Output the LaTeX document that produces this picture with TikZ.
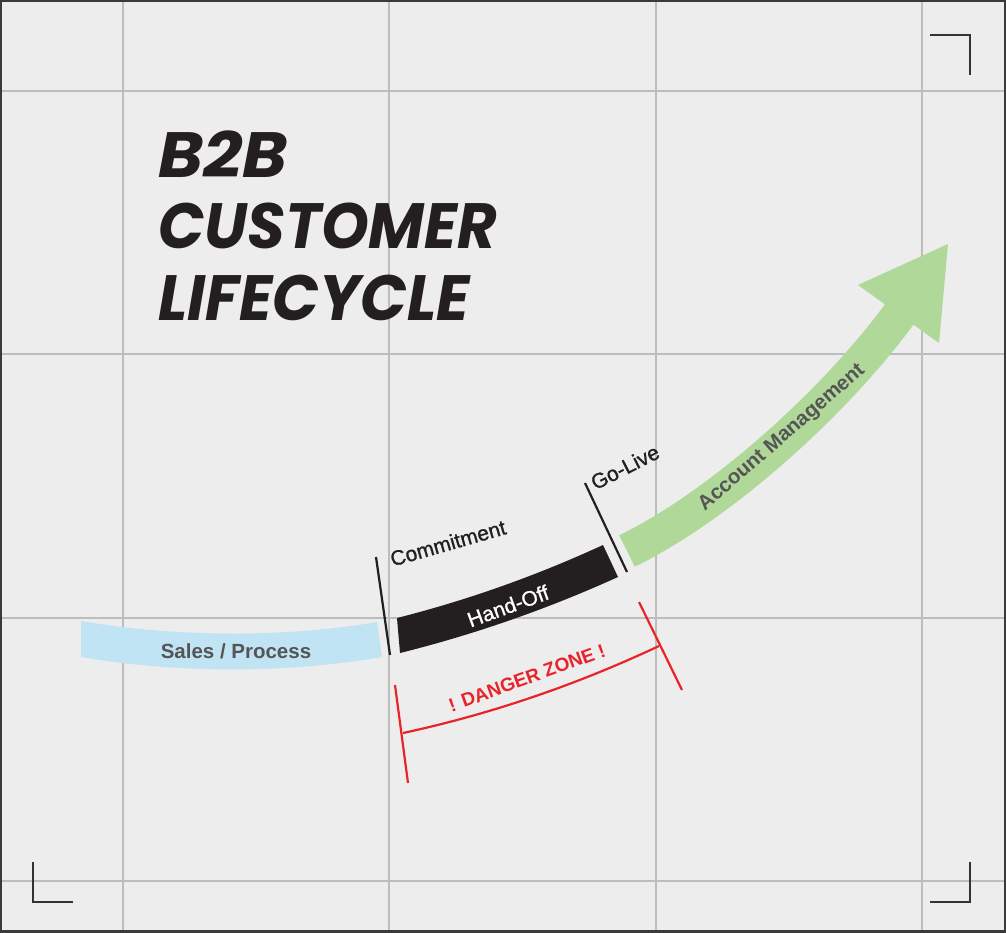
\documentclass[tikz,border=0pt]{standalone}
\usepackage{fontspec}
\setmainfont{Liberation Sans}
\newfontfamily\titlefont{Poppins}
\newfontfamily\regfont{Liberation Sans}[FakeBold=1]

\definecolor{paper}{HTML}{EDEDED}
\definecolor{gridgray}{HTML}{BDBDBD}
\definecolor{framegray}{HTML}{3A3A3A}
\definecolor{markgray}{HTML}{333333}
\definecolor{inkblack}{HTML}{231F20}
\definecolor{salesblue}{HTML}{C0E4F4}
\definecolor{accgreen}{HTML}{B0D898}
\definecolor{dangerred}{HTML}{E8232A}
\definecolor{labelgray}{HTML}{555555}

\begin{document}
\begin{tikzpicture}[x=1pt,y=-1pt,
  gridline/.style={draw=gridgray,line width=1.3pt},
  cornermark/.style={draw=markgray,line width=2pt},
  tickline/.style={draw=inkblack,line width=2.2pt},
  redline/.style={draw=dangerred,line width=2.2pt},
  titleline/.style={anchor=base west,inner sep=0pt,text=inkblack,
    font=\titlefont\bfseries\itshape\fontsize{64}{64}\selectfont},
  stagelabel/.style={inner sep=0pt,text=inkblack,font=\regfont\fontsize{21}{21}\selectfont},
  bandlabel/.style={inner sep=0pt,text=labelgray,font=\bfseries\fontsize{20.5}{20.5}\selectfont}]

\useasboundingbox (0,0) rectangle (1006,932);

% paper and grid
\fill[paper] (0,0) rectangle (1006,932);
\foreach \gx in {123,389,656,922} \draw[gridline] (\gx,0) -- (\gx,932);
\foreach \gy in {91,354,618,881} \draw[gridline] (0,\gy) -- (1006,\gy);
\draw[draw=framegray,line width=4pt] (0,0) rectangle (1006,932);

% crop marks
\draw[cornermark] (930,35) -- (970,35) -- (970,75);
\draw[cornermark] (33,862) -- (33,902) -- (73,902);
\draw[cornermark] (930,902) -- (970,902) -- (970,862);

% title
\node[titleline,xscale=1.07] (t1) at (158,177) {B2B};
\node[titleline,xscale=0.95] (t2) at (158,248) {CUSTOMER};
\node[titleline,xscale=0.96] (t3) at (158,320) {LIFECYCLE};

% sales band
\fill[salesblue] (81,621) .. controls (180,638) and (290,637) .. (377,622)
  -- (382,657) .. controls (290,673) and (180,674) .. (81,657) -- cycle;
\node[bandlabel] (sales) at (236,651) {Sales / Process};

% hand-off band
\fill[inkblack] (397,618) .. controls (468,600) and (536.5,575.6) .. (603,545)
  -- (618,577) .. controls (547.6,608.9) and (475,634.3) .. (400,653) -- cycle;
\node[inner sep=0pt,text=white,font=\regfont\fontsize{21}{21}\selectfont,rotate=20] (handoff) at (508,606) {Hand-Off};

% account management arrow
\draw[accgreen,line width=35pt] (627,551) .. controls (721.4,505) and (836.3,401) .. (901,312);
\fill[accgreen] (858,285) -- (948,244) -- (939,343) -- cycle;
\node[bandlabel,rotate=41] (account) at (782,438) {Account Management};

% milestones
\coordinate (c1) at (376,557);
\coordinate (c2) at (390,655);
\draw[tickline] (c1) -- (c2);
\node[stagelabel,rotate=16] (commit) at (448,543) {Commitment};
\coordinate (g1) at (585,483);
\coordinate (g2) at (627,572);
\draw[tickline] (g1) -- (g2);
\node[stagelabel,rotate=27] (golive) at (625,467) {Go-Live};

% danger zone bracket
\coordinate (d1) at (395,685);
\coordinate (d2) at (408,783);
\coordinate (d3) at (639,602);
\coordinate (d4) at (682,690);
\coordinate (da) at (403,733);
\coordinate (db) at (659,646);
\draw[redline] (d1) -- (d2);
\draw[redline] (d3) -- (d4);
\draw[redline] (da) .. controls (491,714) and (576,685) .. (db);
\node[inner sep=0pt,text=dangerred,font=\bfseries\fontsize{19}{19}\selectfont,rotate=20] (danger) at (527,678) {! DANGER ZONE !};
\end{tikzpicture}
\end{document}
